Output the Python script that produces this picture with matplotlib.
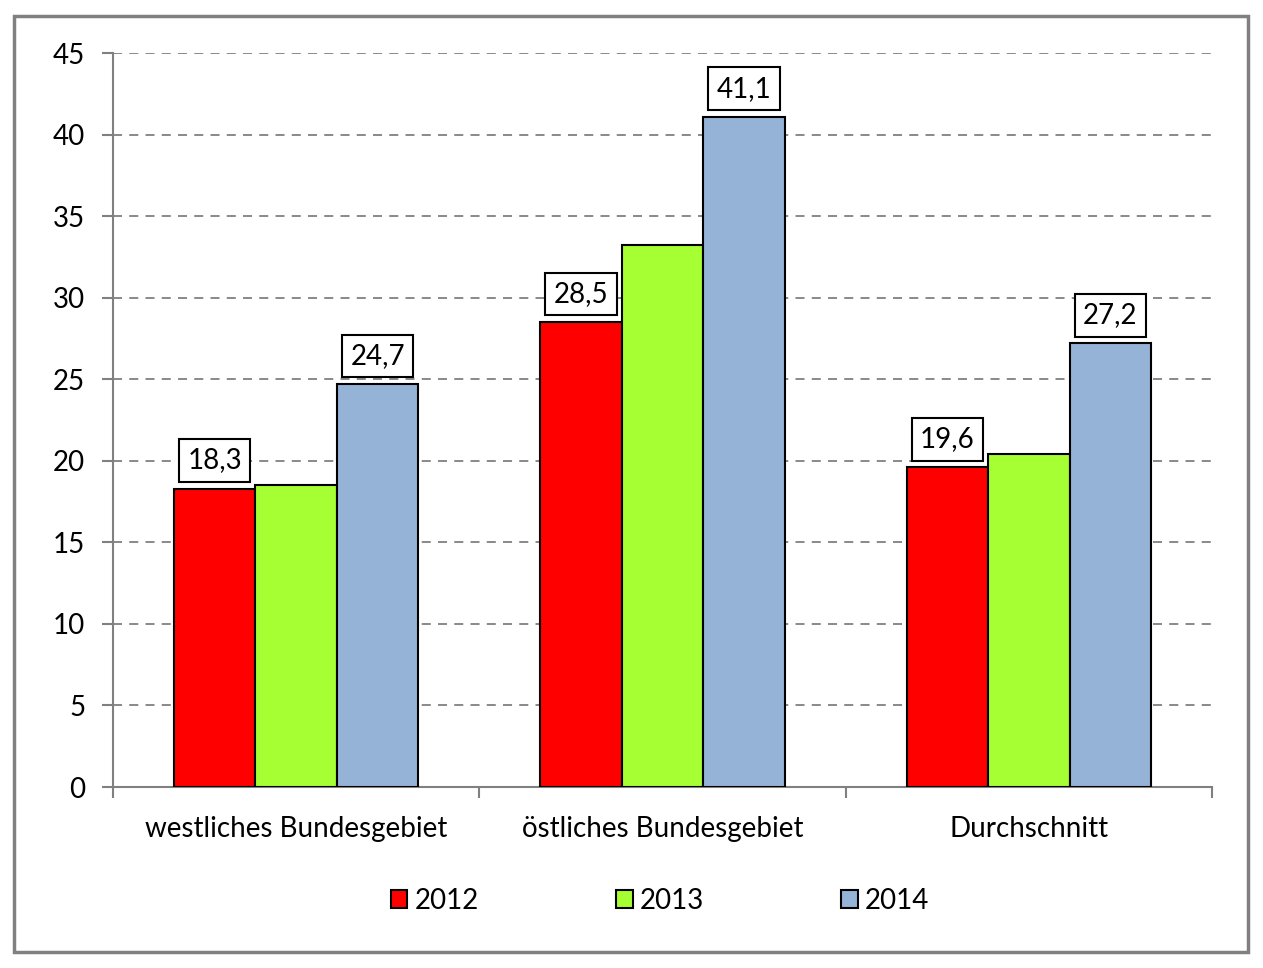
import matplotlib
matplotlib.use("Agg")
import matplotlib.pyplot as plt
from matplotlib.patches import Rectangle
import numpy as np

categories = ["westliches Bundesgebiet", "östliches Bundesgebiet", "Durchschnitt"]
years = ["2012", "2013", "2014"]
v2012 = [18.3, 28.5, 19.6]
v2013 = [18.5, 33.2, 20.4]
v2014 = [24.7, 41.1, 27.2]
labels2012 = ["18,3", "28,5", "19,6"]
labels2014 = ["24,7", "41,1", "27,2"]
colors = ["#FF0000", "#A6FF33", "#95B3D7"]
yticks = [0, 5, 10, 15, 20, 25, 30, 35, 40, 45]

plt.rcParams['font.family'] = ['Lato', 'DejaVu Sans']

fig = plt.figure(figsize=(12.63, 9.68), dpi=100)
ax = fig.add_axes([113/1263, 1-787/968, (1212-113)/1263, (787-53)/968])

x = np.arange(len(categories))
w = 0.2225
series = [v2012, v2013, v2014]
bars = []
for i, (vals, c) in enumerate(zip(series, colors)):
    b = ax.bar(x + (i-1)*w, vals, w, color=c, edgecolor="black", linewidth=1.5,
               label=years[i], zorder=3)
    bars.append(b)

def add_labels(barset, texts):
    for r, t in zip(barset, texts):
        ax.annotate(t, (r.get_x()+r.get_width()/2, r.get_height()),
                    xytext=(0, 28), textcoords="offset pixels", ha="center", va="center",
                    fontsize=20,
                    bbox=dict(boxstyle="square,pad=0.3", fc="white", ec="black", lw=1.5),
                    zorder=5)

add_labels(bars[0], labels2012)
add_labels(bars[2], labels2014)

ax.set_xlim(-0.5, 2.5)
ax.set_ylim(0, 45)
ax.set_yticks(yticks)
ax.set_yticklabels([str(t) for t in yticks], fontsize=20)
ax.yaxis.grid(True, linestyle=(0, (5, 4)), color="#808080", linewidth=1.3, zorder=0)
ax.set_axisbelow(True)

ax.set_xticks([-0.5, 0.5, 1.5, 2.5])
ax.set_xticklabels([])
ax.tick_params(axis="x", direction="out", length=8, width=1.5, color="#808080")
ax.tick_params(axis="y", direction="out", length=8, width=1.5, color="#808080", pad=12)
for i, c in enumerate(categories):
    ax.text(i, -1.8, c, ha="center", va="top", fontsize=20, transform=ax.transData)

for s in ["top", "right"]:
    ax.spines[s].set_visible(False)
for s in ["left", "bottom"]:
    ax.spines[s].set_color("#808080")
    ax.spines[s].set_linewidth(1.5)

leg = fig.legend(handles=bars, labels=years, loc="center", bbox_to_anchor=(660/1263, 1-901/968),
                 ncol=3, frameon=False, fontsize=20, handlelength=0.6, handleheight=0.6,
                 handletextpad=0.25, columnspacing=4.95)

fig.patches.append(Rectangle((14/1263, 1-952/968), (1248-14)/1263, (952-16)/968,
                             transform=fig.transFigure, fill=False, ec="#808080", lw=2.5))

fig.savefig("out.png", dpi=100)
